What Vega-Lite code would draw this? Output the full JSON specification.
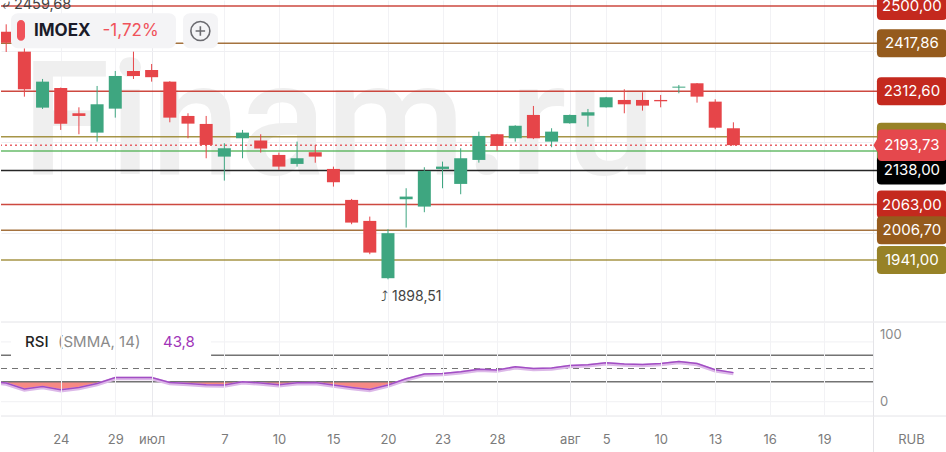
{
  "$schema": "https://vega.github.io/schema/vega-lite/v6.json",
  "padding": 0,
  "spacing": 0,
  "background": "white",
  "config": {
    "view": {"stroke": null},
    "font": "Inter",
    "concat": {"spacing": 0}
  },
  "datasets": {
    "candles": [
      {"i": 0, "open": 2443.5, "high": 2459.68, "low": 2398.8, "close": 2419.2},
      {"i": 1, "open": 2399.5, "high": 2406.9, "low": 2300.5, "close": 2316.7},
      {"i": 2, "open": 2276.3, "high": 2339.4, "low": 2273.4, "close": 2333.5},
      {"i": 3, "open": 2319.6, "high": 2320.5, "low": 2227.2, "close": 2241.1},
      {"i": 4, "open": 2263.9, "high": 2277.0, "low": 2217.7, "close": 2258.0},
      {"i": 5, "open": 2221.3, "high": 2324.0, "low": 2201.5, "close": 2283.7},
      {"i": 6, "open": 2274.1, "high": 2357.0, "low": 2254.3, "close": 2346.0},
      {"i": 7, "open": 2357.0, "high": 2399.5, "low": 2339.4, "close": 2346.0},
      {"i": 8, "open": 2359.2, "high": 2372.4, "low": 2333.5, "close": 2343.3},
      {"i": 9, "open": 2333.5, "high": 2334.5, "low": 2244.0, "close": 2254.3},
      {"i": 10, "open": 2258.0, "high": 2263.9, "low": 2208.9, "close": 2241.1},
      {"i": 11, "open": 2240.4, "high": 2258.0, "low": 2164.9, "close": 2194.2},
      {"i": 12, "open": 2168.5, "high": 2197.9, "low": 2115.7, "close": 2186.9},
      {"i": 13, "open": 2208.9, "high": 2227.2, "low": 2164.9, "close": 2221.3},
      {"i": 14, "open": 2203.7, "high": 2217.7, "low": 2177.3, "close": 2186.1},
      {"i": 15, "open": 2172.2, "high": 2177.3, "low": 2139.2, "close": 2146.5},
      {"i": 16, "open": 2152.4, "high": 2201.5, "low": 2146.5, "close": 2164.9},
      {"i": 17, "open": 2178.1, "high": 2194.2, "low": 2155.0, "close": 2168.5},
      {"i": 18, "open": 2141.4, "high": 2146.5, "low": 2102.5, "close": 2112.1},
      {"i": 19, "open": 2073.2, "high": 2075.4, "low": 2019.7, "close": 2023.3},
      {"i": 20, "open": 2027.0, "high": 2036.5, "low": 1953.7, "close": 1957.3},
      {"i": 21, "open": 1900.9, "high": 2008.7, "low": 1898.51, "close": 2000.0},
      {"i": 22, "open": 2074.7, "high": 2098.9, "low": 2012.3, "close": 2080.5},
      {"i": 23, "open": 2058.5, "high": 2145.1, "low": 2046.1, "close": 2137.0},
      {"i": 24, "open": 2141.4, "high": 2157.5, "low": 2098.9, "close": 2146.5},
      {"i": 25, "open": 2108.4, "high": 2186.9, "low": 2085.7, "close": 2164.9},
      {"i": 26, "open": 2161.2, "high": 2223.4, "low": 2155.3, "close": 2214.0},
      {"i": 27, "open": 2217.7, "high": 2218.5, "low": 2181.7, "close": 2192.0},
      {"i": 28, "open": 2208.9, "high": 2237.5, "low": 2201.5, "close": 2236.7},
      {"i": 29, "open": 2260.2, "high": 2280.0, "low": 2207.0, "close": 2208.9},
      {"i": 30, "open": 2201.5, "high": 2230.9, "low": 2189.1, "close": 2223.5},
      {"i": 31, "open": 2241.9, "high": 2261.0, "low": 2241.0, "close": 2260.2},
      {"i": 32, "open": 2258.7, "high": 2273.4, "low": 2234.5, "close": 2266.1},
      {"i": 33, "open": 2277.0, "high": 2300.0, "low": 2276.5, "close": 2299.1},
      {"i": 34, "open": 2293.2, "high": 2316.7, "low": 2263.9, "close": 2283.7},
      {"i": 35, "open": 2293.2, "high": 2310.1, "low": 2269.7, "close": 2280.7},
      {"i": 36, "open": 2293.2, "high": 2304.2, "low": 2277.0, "close": 2290.3},
      {"i": 37, "open": 2320.3, "high": 2326.2, "low": 2307.9, "close": 2322.5},
      {"i": 38, "open": 2329.9, "high": 2330.5, "low": 2287.3, "close": 2300.5},
      {"i": 39, "open": 2289.5, "high": 2294.7, "low": 2228.7, "close": 2232.1},
      {"i": 40, "open": 2230.9, "high": 2244.0, "low": 2193.0, "close": 2193.73}
    ],
    "rsi": [
      {"i": -1, "rsi": 31}, {"i": 0, "rsi": 28.1}, {"i": 1, "rsi": 19.1}, {"i": 2, "rsi": 23},
      {"i": 3, "rsi": 18.1}, {"i": 4, "rsi": 21.5}, {"i": 5, "rsi": 27.5}, {"i": 6, "rsi": 36.5},
      {"i": 7, "rsi": 36.5}, {"i": 8, "rsi": 36.5}, {"i": 9, "rsi": 29}, {"i": 10, "rsi": 27.5},
      {"i": 11, "rsi": 25.6}, {"i": 12, "rsi": 25.1}, {"i": 13, "rsi": 30}, {"i": 14, "rsi": 28.1},
      {"i": 15, "rsi": 25.6}, {"i": 16, "rsi": 28.6}, {"i": 17, "rsi": 29}, {"i": 18, "rsi": 25.1},
      {"i": 19, "rsi": 21.5}, {"i": 20, "rsi": 18.5}, {"i": 21, "rsi": 25.1}, {"i": 22, "rsi": 34.5},
      {"i": 23, "rsi": 41.6}, {"i": 24, "rsi": 42.5}, {"i": 25, "rsi": 45}, {"i": 26, "rsi": 49},
      {"i": 27, "rsi": 47.6}, {"i": 28, "rsi": 52.5}, {"i": 29, "rsi": 50}, {"i": 30, "rsi": 50.6},
      {"i": 31, "rsi": 54.5}, {"i": 32, "rsi": 55.5}, {"i": 33, "rsi": 58.5}, {"i": 34, "rsi": 56.6},
      {"i": 35, "rsi": 56}, {"i": 36, "rsi": 57.5}, {"i": 37, "rsi": 60.5}, {"i": 38, "rsi": 57.5},
      {"i": 39, "rsi": 48}, {"i": 40, "rsi": 43.8}
    ],
    "levels": [
      {"price": 2500, "kind": "red", "label": "2500,00"},
      {"price": 2417.86, "kind": "brown", "label": "2417,86"},
      {"price": 2312.6, "kind": "red", "label": "2312,60"},
      {"price": 2212, "kind": "olive", "label": null},
      {"price": 2181, "kind": "green", "label": null},
      {"price": 2138, "kind": "black", "label": "2138,00"},
      {"price": 2063, "kind": "red", "label": "2063,00"},
      {"price": 2006.7, "kind": "brown", "label": "2006,70"},
      {"price": 1941, "kind": "olive", "label": "1941,00"},
      {"price": 2193.73, "kind": "last", "label": "2193,73"}
    ]
  },
  "vconcat": [
    {
      "width": 946,
      "height": 321,
      "layer": [
        {
          "data": {"values": [{}]},
          "mark": {"type": "text", "text": "Finam.ru", "font": "Roboto", "fontSize": 160, "fontWeight": 500, "color": "#efefef", "align": "center", "baseline": "alphabetic"},
          "encoding": {
            "x": {"datum": 18.28, "scale": {"domain": [-0.286, 51.75], "nice": false, "zero": false, "padding": 0}, "title": null},
            "y": {"datum": 2130.3, "scale": {"domain": [1806.7, 2513.2], "nice": false, "zero": false, "padding": 0}, "title": null}
          }
        },
        {
          "data": {"name": "levels"},
          "mark": {"type": "rule", "strokeWidth": 1.5, "opacity": 0.85},
          "encoding": {
            "y": {
              "field": "price", "type": "quantitative", "title": null,
              "scale": {"domain": [1806.7, 2513.2], "nice": false, "zero": false, "padding": 0},
              "axis": {"labels": false, "ticks": false, "domain": false, "grid": true, "values": [2000, 2200, 2400], "gridColor": "#efeff2", "title": null}
            },
            "color": {
              "field": "kind", "type": "nominal", "legend": null,
              "scale": {"domain": ["red", "brown", "olive", "green", "black", "last"], "range": ["#c4291e", "#955b1d", "#978227", "#4caf50", "#000000", "#e5484d"]}
            },
            "strokeDash": {"condition": {"test": "datum.kind == 'last'", "value": [2, 3]}, "value": [1, 0]}
          }
        },
        {
          "data": {"name": "candles"},
          "mark": {"type": "rule", "strokeWidth": 1, "clip": true},
          "encoding": {
            "x": {
              "field": "i", "type": "quantitative", "title": null,
              "scale": {"domain": [-0.286, 51.75], "nice": false, "zero": false, "padding": 0},
              "axis": {
                "values": [3, 6, 8, 12, 15, 18, 21, 24, 27, 31, 33, 36, 39, 42, 45, 47.68],
                "labels": false, "ticks": false, "domain": false, "grid": true, "title": null,
                "gridColor": {"condition": [{"test": "datum.value == 47.68", "value": "#e4e4e8"}, {"test": "datum.value == 8 || datum.value == 31", "value": "#e9e9ed"}], "value": "#f2f2f5"}
              }
            },
            "y": {"field": "low", "type": "quantitative", "title": null},
            "y2": {"field": "high"},
            "color": {"condition": {"test": "datum.close > datum.open", "value": "#3ea680"}, "value": "#e64549"}
          }
        },
        {
          "data": {"name": "candles"},
          "mark": {"type": "bar", "size": 13, "clip": true},
          "encoding": {
            "x": {"field": "i", "type": "quantitative", "title": null, "scale": {"domain": [-0.286, 51.75], "nice": false, "zero": false, "padding": 0}},
            "y": {"field": "open", "type": "quantitative", "title": null},
            "y2": {"field": "close"},
            "color": {"condition": {"test": "datum.close > datum.open", "value": "#3ea680"}, "value": "#e64549"}
          }
        },
        {
          "data": {"values": [{}]},
          "mark": {"type": "rect", "color": "#f4f4f6", "cornerRadius": 7},
          "encoding": {"x": {"datum": 0.264}, "x2": {"datum": 9.34}, "y": {"datum": 2483.9}, "y2": {"datum": 2406.9}}
        },
        {
          "data": {"values": [{}]},
          "mark": {"type": "rect", "color": "#f4f4f6", "cornerRadius": 7},
          "encoding": {"x": {"datum": 9.725}, "x2": {"datum": 11.65}, "y": {"datum": 2483.9}, "y2": {"datum": 2406.9}}
        },
        {
          "data": {"values": [{}]},
          "mark": {"type": "rect", "color": "#f0525a", "cornerRadius": 4},
          "encoding": {"x": {"datum": 0.594}, "x2": {"datum": 1.034}, "y": {"datum": 2469.2}, "y2": {"datum": 2423.6}}
        },
        {
          "data": {"values": [{}]},
          "mark": {"type": "text", "text": "IMOEX", "fontSize": 17, "fontWeight": "bold", "color": "#1b1b29", "align": "left", "baseline": "middle"},
          "encoding": {"x": {"datum": 1.529}, "y": {"datum": 2445}}
        },
        {
          "data": {"values": [{}]},
          "mark": {"type": "text", "text": "-1,72%", "fontSize": 17, "color": "#f0525a", "align": "left", "baseline": "middle"},
          "encoding": {"x": {"datum": 5.3}, "y": {"datum": 2445}}
        },
        {
          "data": {"values": [{}]},
          "mark": {"type": "point", "filled": false, "color": "#6b6b70", "strokeWidth": 1.6, "opacity": 1, "size": 361,
                   "shape": "M-1,0A1,1,0,1,0,1,0A1,1,0,1,0,-1,0ZM-0.5,0L0.5,0M0,-0.5L0,0.5"},
          "encoding": {"x": {"datum": 10.68}, "y": {"datum": 2445}}
        },
        {
          "data": {"values": [{}]},
          "mark": {"type": "text", "text": "⤶ 2459,68", "fontSize": 14.5, "color": "#444444", "align": "left", "baseline": "middle", "clip": true},
          "encoding": {"x": {"datum": -0.231}, "y": {"datum": 2501.1}}
        },
        {
          "data": {"values": [{}]},
          "mark": {"type": "text", "text": "⤴ 1898,51", "fontSize": 14, "color": "#444444", "align": "left", "baseline": "middle"},
          "encoding": {"x": {"datum": 20.62}, "y": {"datum": 1859.6}}
        },
        {
          "data": {"name": "levels"},
          "mark": {"type": "point", "filled": true, "opacity": 1, "strokeWidth": 0, "size": 4900, "clip": true},
          "encoding": {
            "x": {"datum": 49.82},
            "y": {"field": "price", "type": "quantitative", "title": null},
            "color": {"field": "kind", "type": "nominal", "legend": null},
            "shape": {
              "field": "kind", "type": "nominal", "legend": null,
              "scale": {
                "domain": ["red", "brown", "olive", "green", "black", "last"],
                "range": [
                  "M-0.88,-0.4H0.88Q1,-0.4,1,-0.28V0.28Q1,0.4,0.88,0.4H-0.88Q-1,0.4,-1,0.28V-0.28Q-1,-0.4,-0.88,-0.4Z",
                  "M-0.88,-0.4H0.88Q1,-0.4,1,-0.28V0.28Q1,0.4,0.88,0.4H-0.88Q-1,0.4,-1,0.28V-0.28Q-1,-0.4,-0.88,-0.4Z",
                  "M-0.88,-0.4H0.88Q1,-0.4,1,-0.28V0.28Q1,0.4,0.88,0.4H-0.88Q-1,0.4,-1,0.28V-0.28Q-1,-0.4,-0.88,-0.4Z",
                  "M-0.88,-0.4H0.88Q1,-0.4,1,-0.28V0.28Q1,0.4,0.88,0.4H-0.88Q-1,0.4,-1,0.28V-0.28Q-1,-0.4,-0.88,-0.4Z",
                  "M-0.88,-0.4H0.88Q1,-0.4,1,-0.28V0.28Q1,0.4,0.88,0.4H-0.88Q-1,0.4,-1,0.28V-0.28Q-1,-0.4,-0.88,-0.4Z",
                  "M-1.1,0L-0.98,-0.2V-0.33Q-0.98,-0.45,-0.86,-0.45H0.88Q1,-0.45,1,-0.33V0.33Q1,0.45,0.88,0.45H-0.86Q-0.98,0.45,-0.98,0.33V0.2Z"
                ]
              }
            }
          }
        },
        {
          "data": {"name": "levels"},
          "transform": [{"filter": "datum.label != null"}],
          "mark": {"type": "text", "fontSize": 15, "color": "white", "align": "center", "baseline": "middle", "clip": true},
          "encoding": {
            "x": {"datum": 49.82},
            "y": {"field": "price", "type": "quantitative", "title": null},
            "text": {"field": "label"}
          }
        }
      ]
    },
    {
      "width": 946,
      "height": 94,
      "layer": [
        {
          "data": {"name": "rsi"},
          "mark": {"type": "area", "color": "#f7837d", "opacity": 0.95, "clip": true},
          "encoding": {
            "x": {
              "field": "i", "type": "quantitative", "title": null,
              "scale": {"domain": [-0.286, 51.75], "nice": false, "zero": false, "padding": 0},
              "axis": {
                "values": [3, 6, 8, 12, 15, 18, 21, 24, 27, 31, 33, 36, 39, 42, 45, 47.68, 49.77],
                "labelExpr": "datum.value == 3 ? '24' : datum.value == 6 ? '29' : datum.value == 8 ? 'июл' : datum.value == 12 ? '7' : datum.value == 15 ? '10' : datum.value == 18 ? '15' : datum.value == 21 ? '20' : datum.value == 24 ? '23' : datum.value == 27 ? '28' : datum.value == 31 ? 'авг' : datum.value == 33 ? '5' : datum.value == 36 ? '10' : datum.value == 39 ? '13' : datum.value == 42 ? '16' : datum.value == 45 ? '19' : datum.value == 49.77 ? 'RUB' : ''",
                "grid": true,
                "gridColor": {"condition": [{"test": "datum.value == 47.68", "value": "#e4e4e8"}, {"test": "datum.value == 8 || datum.value == 31", "value": "#e9e9ed"}, {"test": "datum.value == 49.77", "value": "transparent"}], "value": "#f2f2f5"},
                "ticks": true, "tickSize": 37,
                "tickColor": {"condition": {"test": "datum.value == 47.68", "value": "#e4e4e8"}, "value": "transparent"},
                "labelPadding": -20, "domain": false, "labelColor": "#7b7b7b", "labelFontSize": 13,
                "labelFlush": false, "labelOverlap": false, "title": null, "zindex": 1
              }
            },
            "y": {
              "field": "rsi", "type": "quantitative", "title": null,
              "scale": {"domain": [-21.5, 120], "nice": false, "zero": false, "padding": 0},
              "axis": {"labels": false, "ticks": false, "domain": false, "grid": false, "title": null}
            },
            "y2": {"datum": 30}
          }
        },
        {
          "data": {"values": [{}]},
          "mark": {"type": "rect", "color": "white"},
          "encoding": {"x": {"datum": -0.286}, "x2": {"datum": 47.68}, "y": {"datum": 30}, "y2": {"datum": 120}}
        },
        {
          "data": {"values": [{}]},
          "mark": {"type": "rule", "color": "#f0f0f3", "strokeWidth": 1},
          "encoding": {"x": {"datum": -0.286}, "x2": {"datum": 47.68}, "y": {"datum": 90}}
        },
        {
          "data": {"values": [{}]},
          "mark": {"type": "rule", "color": "#f0f0f3", "strokeWidth": 1},
          "encoding": {"x": {"datum": -0.286}, "x2": {"datum": 47.68}, "y": {"datum": 0}}
        },
        {
          "data": {"values": [{}]},
          "mark": {"type": "rule", "color": "#737373", "strokeWidth": 1.4},
          "encoding": {"x": {"datum": -0.286}, "x2": {"datum": 47.68}, "y": {"datum": 70}}
        },
        {
          "data": {"values": [{}]},
          "mark": {"type": "rule", "color": "#737373", "strokeWidth": 1.4},
          "encoding": {"x": {"datum": -0.286}, "x2": {"datum": 47.68}, "y": {"datum": 30}}
        },
        {
          "data": {"values": [{}]},
          "mark": {"type": "rule", "color": "#737373", "strokeWidth": 1.2, "strokeDash": [6, 5]},
          "encoding": {"x": {"datum": -0.286}, "x2": {"datum": 47.68}, "y": {"datum": 50}}
        },
        {
          "data": {"name": "rsi"},
          "mark": {"type": "line", "color": "#dcb8e8", "strokeWidth": 3.5, "yOffset": 1, "clip": true},
          "encoding": {"x": {"field": "i", "type": "quantitative", "title": null}, "y": {"field": "rsi", "type": "quantitative", "title": null}}
        },
        {
          "data": {"name": "rsi"},
          "mark": {"type": "line", "color": "#a24ec4", "strokeWidth": 1.5, "clip": true},
          "encoding": {"x": {"field": "i", "type": "quantitative", "title": null}, "y": {"field": "rsi", "type": "quantitative", "title": null}}
        },
        {
          "data": {"values": [{}]},
          "mark": {"type": "rect", "color": "white"},
          "encoding": {"x": {"datum": 0.264}, "x2": {"datum": 11.27}, "y": {"datum": 110.97}, "y2": {"datum": 68.8}}
        },
        {
          "data": {"values": [{}]},
          "mark": {"type": "text", "text": "RSI", "fontSize": 15, "fontWeight": 500, "color": "#222222", "align": "left", "baseline": "middle"},
          "encoding": {"x": {"datum": 1.034}, "y": {"datum": 90.6}}
        },
        {
          "data": {"values": [{}]},
          "mark": {"type": "text", "text": "(SMMA, 14)", "fontSize": 15, "color": "#8a8a8a", "align": "left", "baseline": "middle"},
          "encoding": {"x": {"datum": 2.85}, "y": {"datum": 90.6}}
        },
        {
          "data": {"values": [{}]},
          "mark": {"type": "text", "text": "43,8", "fontSize": 15, "color": "#a035b8", "align": "left", "baseline": "middle"},
          "encoding": {"x": {"datum": 8.625}, "y": {"datum": 90.6}}
        },
        {
          "data": {"values": [{}]},
          "mark": {"type": "text", "text": "100", "fontSize": 13, "color": "#8a8a8a", "align": "left", "baseline": "middle"},
          "encoding": {"x": {"datum": 48.06}, "y": {"datum": 100}}
        },
        {
          "data": {"values": [{}]},
          "mark": {"type": "text", "text": "0", "fontSize": 13, "color": "#8a8a8a", "align": "left", "baseline": "middle"},
          "encoding": {"x": {"datum": 48.06}, "y": {"datum": 0}}
        },
        {
          "data": {"values": [{}]},
          "mark": {"type": "rule", "color": "#e4e4e8", "strokeWidth": 1},
          "encoding": {"y": {"datum": 120}}
        },
        {
          "data": {"values": [{}]},
          "mark": {"type": "rule", "color": "#e4e4e8", "strokeWidth": 1},
          "encoding": {"y": {"datum": -21.5}}
        }
      ]
    }
  ]
}
